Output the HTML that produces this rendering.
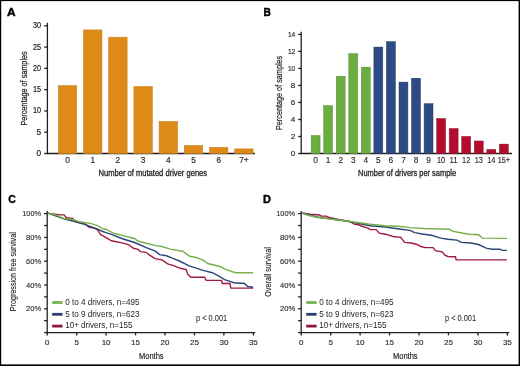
<!DOCTYPE html>
<html><head><meta charset="utf-8"><style>
html,body{margin:0;padding:0;background:#fff;}
svg{display:block;font-family:"Liberation Sans", sans-serif;will-change:transform;}
</style></head><body>
<svg width="520" height="366" viewBox="0 0 520 366">
<rect width="520" height="366" fill="#fff"/>
<text x="7.0" y="15.5" font-size="10.6" text-anchor="start" textLength="8.6" lengthAdjust="spacingAndGlyphs" font-weight="bold" stroke="#000" stroke-width="0.4" fill="#000">A</text>
<line x1="47.4" y1="22.8" x2="47.4" y2="154.1" stroke="#231f20" stroke-width="1.3"/>
<line x1="46.8" y1="153.5" x2="255" y2="153.5" stroke="#231f20" stroke-width="1.3"/>
<line x1="44.2" y1="153.5" x2="47.4" y2="153.5" stroke="#231f20" stroke-width="1.3"/>
<text x="41" y="156.0" font-size="8.3" text-anchor="end" stroke="#231f20" stroke-width="0.2" fill="#231f20">0</text>
<line x1="44.2" y1="132.21666666666667" x2="47.4" y2="132.21666666666667" stroke="#231f20" stroke-width="1.3"/>
<text x="41" y="134.71666666666667" font-size="8.3" text-anchor="end" stroke="#231f20" stroke-width="0.2" fill="#231f20">5</text>
<line x1="44.2" y1="110.93333333333334" x2="47.4" y2="110.93333333333334" stroke="#231f20" stroke-width="1.3"/>
<text x="41" y="113.43333333333334" font-size="8.3" text-anchor="end" textLength="8.1" lengthAdjust="spacingAndGlyphs" stroke="#231f20" stroke-width="0.2" fill="#231f20">10</text>
<line x1="44.2" y1="89.65" x2="47.4" y2="89.65" stroke="#231f20" stroke-width="1.3"/>
<text x="41" y="92.15" font-size="8.3" text-anchor="end" textLength="8.1" lengthAdjust="spacingAndGlyphs" stroke="#231f20" stroke-width="0.2" fill="#231f20">15</text>
<line x1="44.2" y1="68.36666666666666" x2="47.4" y2="68.36666666666666" stroke="#231f20" stroke-width="1.3"/>
<text x="41" y="70.86666666666666" font-size="8.3" text-anchor="end" textLength="8.1" lengthAdjust="spacingAndGlyphs" stroke="#231f20" stroke-width="0.2" fill="#231f20">20</text>
<line x1="44.2" y1="47.08333333333333" x2="47.4" y2="47.08333333333333" stroke="#231f20" stroke-width="1.3"/>
<text x="41" y="49.58333333333333" font-size="8.3" text-anchor="end" textLength="8.1" lengthAdjust="spacingAndGlyphs" stroke="#231f20" stroke-width="0.2" fill="#231f20">25</text>
<line x1="44.2" y1="25.799999999999997" x2="47.4" y2="25.799999999999997" stroke="#231f20" stroke-width="1.3"/>
<text x="41" y="28.299999999999997" font-size="8.3" text-anchor="end" textLength="8.1" lengthAdjust="spacingAndGlyphs" stroke="#231f20" stroke-width="0.2" fill="#231f20">30</text>
<rect x="58.30" y="85.69" width="18.40" height="67.81" fill="#DE8A18" stroke="#C98521" stroke-width="0.6"/>
<text x="67.5" y="163.2" font-size="8.3" text-anchor="middle" stroke="#231f20" stroke-width="0.15" fill="#231f20">0</text>
<rect x="83.50" y="29.93" width="18.40" height="123.57" fill="#DE8A18" stroke="#C98521" stroke-width="0.6"/>
<text x="92.7" y="163.2" font-size="8.3" text-anchor="middle" stroke="#231f20" stroke-width="0.15" fill="#231f20">1</text>
<rect x="108.70" y="37.17" width="18.40" height="116.33" fill="#DE8A18" stroke="#C98521" stroke-width="0.6"/>
<text x="117.9" y="163.2" font-size="8.3" text-anchor="middle" stroke="#231f20" stroke-width="0.15" fill="#231f20">2</text>
<rect x="133.90" y="86.54" width="18.40" height="66.96" fill="#DE8A18" stroke="#C98521" stroke-width="0.6"/>
<text x="143.1" y="163.2" font-size="8.3" text-anchor="middle" stroke="#231f20" stroke-width="0.15" fill="#231f20">3</text>
<rect x="159.10" y="121.45" width="18.40" height="32.05" fill="#DE8A18" stroke="#C98521" stroke-width="0.6"/>
<text x="168.3" y="163.2" font-size="8.3" text-anchor="middle" stroke="#231f20" stroke-width="0.15" fill="#231f20">4</text>
<rect x="184.30" y="145.50" width="18.40" height="8.00" fill="#DE8A18" stroke="#C98521" stroke-width="0.6"/>
<text x="193.5" y="163.2" font-size="8.3" text-anchor="middle" stroke="#231f20" stroke-width="0.15" fill="#231f20">5</text>
<rect x="209.50" y="147.42" width="18.40" height="6.08" fill="#DE8A18" stroke="#C98521" stroke-width="0.6"/>
<text x="218.7" y="163.2" font-size="8.3" text-anchor="middle" stroke="#231f20" stroke-width="0.15" fill="#231f20">6</text>
<rect x="234.70" y="148.90" width="18.40" height="4.60" fill="#DE8A18" stroke="#C98521" stroke-width="0.6"/>
<text x="243.9" y="163.2" font-size="8.3" text-anchor="middle" stroke="#231f20" stroke-width="0.15" fill="#231f20">7+</text>
<text x="98.5" y="176.2" font-size="8.9" text-anchor="start" textLength="108.6" lengthAdjust="spacingAndGlyphs" stroke="#231f20" stroke-width="0.3" fill="#231f20">Number of mutated driver genes</text>
<text x="27.2" y="125.6" font-size="9.5" text-anchor="start" textLength="74.3" lengthAdjust="spacingAndGlyphs" transform="rotate(-90 27.2 125.6)" stroke="#231f20" stroke-width="0.25" fill="#231f20">Percentage of samples</text>
<text x="263.6" y="15.5" font-size="10.4" text-anchor="start" textLength="7.4" lengthAdjust="spacingAndGlyphs" font-weight="bold" stroke="#000" stroke-width="0.4" fill="#000">B</text>
<line x1="301.2" y1="31.7" x2="301.2" y2="154.1" stroke="#231f20" stroke-width="1.3"/>
<line x1="300.59999999999997" y1="153.5" x2="512" y2="153.5" stroke="#231f20" stroke-width="1.3"/>
<line x1="298.2" y1="153.5" x2="301.2" y2="153.5" stroke="#231f20" stroke-width="1.3"/>
<text x="295.3" y="155.9" font-size="8.1" text-anchor="end" stroke="#231f20" stroke-width="0.15" fill="#231f20">0</text>
<line x1="298.2" y1="136.4857142857143" x2="301.2" y2="136.4857142857143" stroke="#231f20" stroke-width="1.3"/>
<text x="295.3" y="138.8857142857143" font-size="8.1" text-anchor="end" stroke="#231f20" stroke-width="0.15" fill="#231f20">2</text>
<line x1="298.2" y1="119.47142857142858" x2="301.2" y2="119.47142857142858" stroke="#231f20" stroke-width="1.3"/>
<text x="295.3" y="121.87142857142858" font-size="8.1" text-anchor="end" stroke="#231f20" stroke-width="0.15" fill="#231f20">4</text>
<line x1="298.2" y1="102.45714285714286" x2="301.2" y2="102.45714285714286" stroke="#231f20" stroke-width="1.3"/>
<text x="295.3" y="104.85714285714286" font-size="8.1" text-anchor="end" stroke="#231f20" stroke-width="0.15" fill="#231f20">6</text>
<line x1="298.2" y1="85.44285714285715" x2="301.2" y2="85.44285714285715" stroke="#231f20" stroke-width="1.3"/>
<text x="295.3" y="87.84285714285716" font-size="8.1" text-anchor="end" stroke="#231f20" stroke-width="0.15" fill="#231f20">8</text>
<line x1="298.2" y1="68.42857142857144" x2="301.2" y2="68.42857142857144" stroke="#231f20" stroke-width="1.3"/>
<text x="295.3" y="70.82857142857145" font-size="8.1" text-anchor="end" textLength="7.4" lengthAdjust="spacingAndGlyphs" stroke="#231f20" stroke-width="0.15" fill="#231f20">10</text>
<line x1="298.2" y1="51.414285714285725" x2="301.2" y2="51.414285714285725" stroke="#231f20" stroke-width="1.3"/>
<text x="295.3" y="53.814285714285724" font-size="8.1" text-anchor="end" textLength="7.4" lengthAdjust="spacingAndGlyphs" stroke="#231f20" stroke-width="0.15" fill="#231f20">12</text>
<line x1="298.2" y1="34.400000000000006" x2="301.2" y2="34.400000000000006" stroke="#231f20" stroke-width="1.3"/>
<text x="295.3" y="36.800000000000004" font-size="8.1" text-anchor="end" textLength="7.4" lengthAdjust="spacingAndGlyphs" stroke="#231f20" stroke-width="0.15" fill="#231f20">14</text>
<rect x="311.15" y="135.46" width="8.90" height="18.04" fill="#6AAE3F" stroke="#5C8F3A" stroke-width="0.5"/>
<text x="315.59999999999997" y="163.3" font-size="8.3" text-anchor="middle" stroke="#231f20" stroke-width="0.12" fill="#231f20">0</text>
<rect x="323.70" y="105.60" width="8.90" height="47.90" fill="#6AAE3F" stroke="#5C8F3A" stroke-width="0.5"/>
<text x="328.15" y="163.3" font-size="8.3" text-anchor="middle" stroke="#231f20" stroke-width="0.12" fill="#231f20">1</text>
<rect x="336.25" y="76.34" width="8.90" height="77.16" fill="#6AAE3F" stroke="#5C8F3A" stroke-width="0.5"/>
<text x="340.7" y="163.3" font-size="8.3" text-anchor="middle" stroke="#231f20" stroke-width="0.12" fill="#231f20">2</text>
<rect x="348.80" y="53.62" width="8.90" height="99.88" fill="#6AAE3F" stroke="#5C8F3A" stroke-width="0.5"/>
<text x="353.24999999999994" y="163.3" font-size="8.3" text-anchor="middle" stroke="#231f20" stroke-width="0.12" fill="#231f20">3</text>
<rect x="361.35" y="67.15" width="8.90" height="86.35" fill="#6AAE3F" stroke="#5C8F3A" stroke-width="0.5"/>
<text x="365.79999999999995" y="163.3" font-size="8.3" text-anchor="middle" stroke="#231f20" stroke-width="0.12" fill="#231f20">4</text>
<rect x="373.90" y="47.07" width="8.90" height="106.43" fill="#2C4A84" stroke="#233A62" stroke-width="0.5"/>
<text x="378.34999999999997" y="163.3" font-size="8.3" text-anchor="middle" stroke="#231f20" stroke-width="0.12" fill="#231f20">5</text>
<rect x="386.45" y="41.63" width="8.90" height="111.87" fill="#2C4A84" stroke="#233A62" stroke-width="0.5"/>
<text x="390.9" y="163.3" font-size="8.3" text-anchor="middle" stroke="#231f20" stroke-width="0.12" fill="#231f20">6</text>
<rect x="399.00" y="82.12" width="8.90" height="71.38" fill="#2C4A84" stroke="#233A62" stroke-width="0.5"/>
<text x="403.45" y="163.3" font-size="8.3" text-anchor="middle" stroke="#231f20" stroke-width="0.12" fill="#231f20">7</text>
<rect x="411.55" y="78.29" width="8.90" height="75.21" fill="#2C4A84" stroke="#233A62" stroke-width="0.5"/>
<text x="415.99999999999994" y="163.3" font-size="8.3" text-anchor="middle" stroke="#231f20" stroke-width="0.12" fill="#231f20">8</text>
<rect x="424.10" y="103.73" width="8.90" height="49.77" fill="#2C4A84" stroke="#233A62" stroke-width="0.5"/>
<text x="428.54999999999995" y="163.3" font-size="8.3" text-anchor="middle" stroke="#231f20" stroke-width="0.12" fill="#231f20">9</text>
<rect x="436.65" y="118.53" width="8.90" height="34.97" fill="#B30D2E" stroke="#8E0E28" stroke-width="0.5"/>
<text x="441.09999999999997" y="163.3" font-size="8.3" text-anchor="middle" textLength="8.2" lengthAdjust="spacingAndGlyphs" stroke="#231f20" stroke-width="0.12" fill="#231f20">10</text>
<rect x="449.20" y="128.57" width="8.90" height="24.93" fill="#B30D2E" stroke="#8E0E28" stroke-width="0.5"/>
<text x="453.65" y="163.3" font-size="8.3" text-anchor="middle" textLength="8.2" lengthAdjust="spacingAndGlyphs" stroke="#231f20" stroke-width="0.12" fill="#231f20">11</text>
<rect x="461.75" y="136.48" width="8.90" height="17.02" fill="#B30D2E" stroke="#8E0E28" stroke-width="0.5"/>
<text x="466.2" y="163.3" font-size="8.3" text-anchor="middle" textLength="8.2" lengthAdjust="spacingAndGlyphs" stroke="#231f20" stroke-width="0.12" fill="#231f20">12</text>
<rect x="474.30" y="140.99" width="8.90" height="12.51" fill="#B30D2E" stroke="#8E0E28" stroke-width="0.5"/>
<text x="478.74999999999994" y="163.3" font-size="8.3" text-anchor="middle" textLength="8.2" lengthAdjust="spacingAndGlyphs" stroke="#231f20" stroke-width="0.12" fill="#231f20">13</text>
<rect x="486.85" y="149.50" width="8.90" height="4.00" fill="#B30D2E" stroke="#8E0E28" stroke-width="0.5"/>
<text x="491.3" y="163.3" font-size="8.3" text-anchor="middle" textLength="8.2" lengthAdjust="spacingAndGlyphs" stroke="#231f20" stroke-width="0.12" fill="#231f20">14</text>
<rect x="499.40" y="144.14" width="8.90" height="9.36" fill="#B30D2E" stroke="#8E0E28" stroke-width="0.5"/>
<text x="503.84999999999997" y="163.3" font-size="8.3" text-anchor="middle" textLength="12.4" lengthAdjust="spacingAndGlyphs" stroke="#231f20" stroke-width="0.12" fill="#231f20">15+</text>
<text x="358.1" y="176.2" font-size="8.9" text-anchor="start" textLength="98.0" lengthAdjust="spacingAndGlyphs" stroke="#231f20" stroke-width="0.3" fill="#231f20">Number of drivers per sample</text>
<text x="281.5" y="130.0" font-size="9.4" text-anchor="start" textLength="74.2" lengthAdjust="spacingAndGlyphs" transform="rotate(-90 281.5 130.0)" stroke="#231f20" stroke-width="0.22" fill="#231f20">Percentage of samples</text>
<text x="8.3" y="203.3" font-size="10.9" text-anchor="start" textLength="7.6" lengthAdjust="spacingAndGlyphs" font-weight="bold" stroke="#000" stroke-width="0.4" fill="#000">C</text>
<line x1="47.2" y1="211" x2="47.2" y2="333.20000000000005" stroke="#231f20" stroke-width="1.3"/>
<line x1="46.6" y1="332.6" x2="255.2" y2="332.6" stroke="#231f20" stroke-width="1.3"/>
<line x1="44.1" y1="332.6" x2="47.2" y2="332.6" stroke="#231f20" stroke-width="1.3"/>
<line x1="44.1" y1="320.70000000000005" x2="47.2" y2="320.70000000000005" stroke="#231f20" stroke-width="1.3"/>
<line x1="44.1" y1="308.8" x2="47.2" y2="308.8" stroke="#231f20" stroke-width="1.3"/>
<text x="41.2" y="311.40000000000003" font-size="8.0" text-anchor="end" textLength="15.3" lengthAdjust="spacingAndGlyphs" stroke="#231f20" stroke-width="0.1" fill="#231f20">20%</text>
<line x1="44.1" y1="296.90000000000003" x2="47.2" y2="296.90000000000003" stroke="#231f20" stroke-width="1.3"/>
<line x1="44.1" y1="285.0" x2="47.2" y2="285.0" stroke="#231f20" stroke-width="1.3"/>
<text x="41.2" y="287.6" font-size="8.0" text-anchor="end" textLength="15.3" lengthAdjust="spacingAndGlyphs" stroke="#231f20" stroke-width="0.1" fill="#231f20">40%</text>
<line x1="44.1" y1="273.1" x2="47.2" y2="273.1" stroke="#231f20" stroke-width="1.3"/>
<line x1="44.1" y1="261.2" x2="47.2" y2="261.2" stroke="#231f20" stroke-width="1.3"/>
<text x="41.2" y="263.8" font-size="8.0" text-anchor="end" textLength="15.3" lengthAdjust="spacingAndGlyphs" stroke="#231f20" stroke-width="0.1" fill="#231f20">60%</text>
<line x1="44.1" y1="249.3" x2="47.2" y2="249.3" stroke="#231f20" stroke-width="1.3"/>
<line x1="44.1" y1="237.4" x2="47.2" y2="237.4" stroke="#231f20" stroke-width="1.3"/>
<text x="41.2" y="240.0" font-size="8.0" text-anchor="end" textLength="15.3" lengthAdjust="spacingAndGlyphs" stroke="#231f20" stroke-width="0.1" fill="#231f20">80%</text>
<line x1="44.1" y1="225.5" x2="47.2" y2="225.5" stroke="#231f20" stroke-width="1.3"/>
<line x1="44.1" y1="213.59999999999997" x2="47.2" y2="213.59999999999997" stroke="#231f20" stroke-width="1.3"/>
<text x="41.2" y="216.19999999999996" font-size="8.0" text-anchor="end" textLength="19.0" lengthAdjust="spacingAndGlyphs" stroke="#231f20" stroke-width="0.1" fill="#231f20">100%</text>
<line x1="47.2" y1="332.6" x2="47.2" y2="335.40000000000003" stroke="#231f20" stroke-width="1.3"/>
<text x="47.2" y="344.8" font-size="8.0" text-anchor="middle" stroke="#231f20" stroke-width="0.12" fill="#231f20">0</text>
<line x1="76.65" y1="332.6" x2="76.65" y2="335.40000000000003" stroke="#231f20" stroke-width="1.3"/>
<text x="76.65" y="344.8" font-size="8.0" text-anchor="middle" stroke="#231f20" stroke-width="0.12" fill="#231f20">5</text>
<line x1="106.1" y1="332.6" x2="106.1" y2="335.40000000000003" stroke="#231f20" stroke-width="1.3"/>
<text x="106.1" y="344.8" font-size="8.0" text-anchor="middle" stroke="#231f20" stroke-width="0.12" fill="#231f20">10</text>
<line x1="135.55" y1="332.6" x2="135.55" y2="335.40000000000003" stroke="#231f20" stroke-width="1.3"/>
<text x="135.55" y="344.8" font-size="8.0" text-anchor="middle" stroke="#231f20" stroke-width="0.12" fill="#231f20">15</text>
<line x1="165.0" y1="332.6" x2="165.0" y2="335.40000000000003" stroke="#231f20" stroke-width="1.3"/>
<text x="165.0" y="344.8" font-size="8.0" text-anchor="middle" stroke="#231f20" stroke-width="0.12" fill="#231f20">20</text>
<line x1="194.45" y1="332.6" x2="194.45" y2="335.40000000000003" stroke="#231f20" stroke-width="1.3"/>
<text x="194.45" y="344.8" font-size="8.0" text-anchor="middle" stroke="#231f20" stroke-width="0.12" fill="#231f20">25</text>
<line x1="223.89999999999998" y1="332.6" x2="223.89999999999998" y2="335.40000000000003" stroke="#231f20" stroke-width="1.3"/>
<text x="223.89999999999998" y="344.8" font-size="8.0" text-anchor="middle" stroke="#231f20" stroke-width="0.12" fill="#231f20">30</text>
<line x1="253.34999999999997" y1="332.6" x2="253.34999999999997" y2="335.40000000000003" stroke="#231f20" stroke-width="1.3"/>
<text x="253.34999999999997" y="344.8" font-size="8.0" text-anchor="middle" stroke="#231f20" stroke-width="0.12" fill="#231f20">35</text>
<text x="151.3" y="358.6" font-size="9.9" text-anchor="middle" textLength="24.6" lengthAdjust="spacingAndGlyphs" stroke="#231f20" stroke-width="0.2" fill="#231f20">Months</text>
<text x="16.0" y="311.2" font-size="9.2" text-anchor="start" textLength="79.0" lengthAdjust="spacingAndGlyphs" transform="rotate(-90 16.0 311.2)" stroke="#231f20" stroke-width="0.15" fill="#231f20">Progression free survival</text>
<text x="196.1" y="321.1" font-size="8.5" text-anchor="start" textLength="31.0" lengthAdjust="spacingAndGlyphs" stroke="#231f20" stroke-width="0.05" fill="#231f20">p &lt; 0.001</text>
<line x1="52.2" y1="302.5" x2="62.6" y2="302.5" stroke="#7AB04E" stroke-width="2.8"/>
<text x="65.2" y="304.8" font-size="8.4" text-anchor="start" textLength="74.4" lengthAdjust="spacingAndGlyphs" fill="#231f20">0 to 4 drivers, n=495</text>
<line x1="52.2" y1="314.3" x2="62.6" y2="314.3" stroke="#2A406E" stroke-width="2.8"/>
<text x="65.2" y="316.6" font-size="8.4" text-anchor="start" textLength="74.4" lengthAdjust="spacingAndGlyphs" fill="#231f20">5 to 9 drivers, n=623</text>
<line x1="52.2" y1="326.1" x2="62.6" y2="326.1" stroke="#8F1936" stroke-width="2.8"/>
<text x="65.2" y="328.40000000000003" font-size="8.4" text-anchor="start" textLength="67.3" lengthAdjust="spacingAndGlyphs" fill="#231f20">10+ drivers, n=155</text>
<path d="M47.9,213.2 L60.0,214.9 L64.0,214.9 L66.3,217.8 L72.7,218.4 L75.0,221.3 L85.4,224.2 L88.8,227.0 L94.6,228.2 L98.1,230.5 L100.4,234.5 L103.5,236.2 L111.5,240.8 L123.1,243.1 L128.8,244.8 L133.5,248.3 L138.1,249.4 L140.4,251.7 L146.2,252.3 L149.6,255.2 L155.0,258.7 L161.9,259.8 L167.7,263.8 L173.5,265.6 L180.4,268.3 L186.2,269.6 L187.7,274.2 L190.8,277.3 L204.6,277.3 L206.2,280.4 L221.5,280.4 L222.3,283.5 L230.0,283.5 L230.8,288.1 L253.1,288.1" fill="none" stroke="#9E1B3C" stroke-width="1.4" stroke-linejoin="miter"/>
<path d="M47.9,213.2 L64.6,219.0 L73.8,221.3 L85.4,224.7 L96.9,228.8 L100.4,230.5 L105.8,232.7 L111.5,234.4 L123.1,239.0 L134.6,242.5 L146.2,247.7 L155.4,251.2 L159.6,254.6 L166.5,255.8 L173.5,258.7 L180.4,261.5 L189.2,265.8 L203.1,270.4 L212.3,272.7 L218.5,275.8 L224.6,279.6 L233.8,282.7 L244.6,283.5 L247.7,286.5 L253.1,287.3" fill="none" stroke="#2B4676" stroke-width="1.4" stroke-linejoin="miter"/>
<path d="M47.9,213.2 L55.4,214.9 L63.5,218.4 L72.7,219.5 L79.6,221.8 L91.2,223.6 L98.1,225.9 L102.7,228.8 L105.8,229.2 L113.8,233.3 L123.1,235.6 L134.6,238.5 L138.1,241.3 L148.5,243.7 L155.0,245.4 L161.9,246.5 L171.2,249.4 L182.7,251.2 L189.6,256.3 L196.5,257.5 L203.5,260.4 L207.7,263.5 L220.0,266.5 L226.2,269.6 L235.4,272.7 L253.1,272.7" fill="none" stroke="#78B04B" stroke-width="1.4" stroke-linejoin="miter"/>
<text x="263.1" y="203.3" font-size="10.9" text-anchor="start" textLength="7.9" lengthAdjust="spacingAndGlyphs" font-weight="bold" stroke="#000" stroke-width="0.4" fill="#000">D</text>
<line x1="301.2" y1="211" x2="301.2" y2="333.20000000000005" stroke="#231f20" stroke-width="1.3"/>
<line x1="300.59999999999997" y1="332.6" x2="509.2" y2="332.6" stroke="#231f20" stroke-width="1.3"/>
<line x1="298.09999999999997" y1="332.6" x2="301.2" y2="332.6" stroke="#231f20" stroke-width="1.3"/>
<line x1="298.09999999999997" y1="320.70000000000005" x2="301.2" y2="320.70000000000005" stroke="#231f20" stroke-width="1.3"/>
<line x1="298.09999999999997" y1="308.8" x2="301.2" y2="308.8" stroke="#231f20" stroke-width="1.3"/>
<text x="295.2" y="311.40000000000003" font-size="8.0" text-anchor="end" textLength="15.3" lengthAdjust="spacingAndGlyphs" stroke="#231f20" stroke-width="0.1" fill="#231f20">20%</text>
<line x1="298.09999999999997" y1="296.90000000000003" x2="301.2" y2="296.90000000000003" stroke="#231f20" stroke-width="1.3"/>
<line x1="298.09999999999997" y1="285.0" x2="301.2" y2="285.0" stroke="#231f20" stroke-width="1.3"/>
<text x="295.2" y="287.6" font-size="8.0" text-anchor="end" textLength="15.3" lengthAdjust="spacingAndGlyphs" stroke="#231f20" stroke-width="0.1" fill="#231f20">40%</text>
<line x1="298.09999999999997" y1="273.1" x2="301.2" y2="273.1" stroke="#231f20" stroke-width="1.3"/>
<line x1="298.09999999999997" y1="261.2" x2="301.2" y2="261.2" stroke="#231f20" stroke-width="1.3"/>
<text x="295.2" y="263.8" font-size="8.0" text-anchor="end" textLength="15.3" lengthAdjust="spacingAndGlyphs" stroke="#231f20" stroke-width="0.1" fill="#231f20">60%</text>
<line x1="298.09999999999997" y1="249.3" x2="301.2" y2="249.3" stroke="#231f20" stroke-width="1.3"/>
<line x1="298.09999999999997" y1="237.4" x2="301.2" y2="237.4" stroke="#231f20" stroke-width="1.3"/>
<text x="295.2" y="240.0" font-size="8.0" text-anchor="end" textLength="15.3" lengthAdjust="spacingAndGlyphs" stroke="#231f20" stroke-width="0.1" fill="#231f20">80%</text>
<line x1="298.09999999999997" y1="225.5" x2="301.2" y2="225.5" stroke="#231f20" stroke-width="1.3"/>
<line x1="298.09999999999997" y1="213.59999999999997" x2="301.2" y2="213.59999999999997" stroke="#231f20" stroke-width="1.3"/>
<text x="295.2" y="216.19999999999996" font-size="8.0" text-anchor="end" textLength="19.0" lengthAdjust="spacingAndGlyphs" stroke="#231f20" stroke-width="0.1" fill="#231f20">100%</text>
<line x1="301.2" y1="332.6" x2="301.2" y2="335.40000000000003" stroke="#231f20" stroke-width="1.3"/>
<text x="301.2" y="344.8" font-size="8.0" text-anchor="middle" stroke="#231f20" stroke-width="0.12" fill="#231f20">0</text>
<line x1="330.65" y1="332.6" x2="330.65" y2="335.40000000000003" stroke="#231f20" stroke-width="1.3"/>
<text x="330.65" y="344.8" font-size="8.0" text-anchor="middle" stroke="#231f20" stroke-width="0.12" fill="#231f20">5</text>
<line x1="360.09999999999997" y1="332.6" x2="360.09999999999997" y2="335.40000000000003" stroke="#231f20" stroke-width="1.3"/>
<text x="360.09999999999997" y="344.8" font-size="8.0" text-anchor="middle" stroke="#231f20" stroke-width="0.12" fill="#231f20">10</text>
<line x1="389.54999999999995" y1="332.6" x2="389.54999999999995" y2="335.40000000000003" stroke="#231f20" stroke-width="1.3"/>
<text x="389.54999999999995" y="344.8" font-size="8.0" text-anchor="middle" stroke="#231f20" stroke-width="0.12" fill="#231f20">15</text>
<line x1="419.0" y1="332.6" x2="419.0" y2="335.40000000000003" stroke="#231f20" stroke-width="1.3"/>
<text x="419.0" y="344.8" font-size="8.0" text-anchor="middle" stroke="#231f20" stroke-width="0.12" fill="#231f20">20</text>
<line x1="448.45" y1="332.6" x2="448.45" y2="335.40000000000003" stroke="#231f20" stroke-width="1.3"/>
<text x="448.45" y="344.8" font-size="8.0" text-anchor="middle" stroke="#231f20" stroke-width="0.12" fill="#231f20">25</text>
<line x1="477.9" y1="332.6" x2="477.9" y2="335.40000000000003" stroke="#231f20" stroke-width="1.3"/>
<text x="477.9" y="344.8" font-size="8.0" text-anchor="middle" stroke="#231f20" stroke-width="0.12" fill="#231f20">30</text>
<line x1="507.34999999999997" y1="332.6" x2="507.34999999999997" y2="335.40000000000003" stroke="#231f20" stroke-width="1.3"/>
<text x="507.34999999999997" y="344.8" font-size="8.0" text-anchor="middle" stroke="#231f20" stroke-width="0.12" fill="#231f20">35</text>
<text x="405.3" y="358.6" font-size="9.9" text-anchor="middle" textLength="24.6" lengthAdjust="spacingAndGlyphs" stroke="#231f20" stroke-width="0.2" fill="#231f20">Months</text>
<text x="270.6" y="296.8" font-size="9.2" text-anchor="start" textLength="49.6" lengthAdjust="spacingAndGlyphs" transform="rotate(-90 270.6 296.8)" stroke="#231f20" stroke-width="0.15" fill="#231f20">Overall survival</text>
<text x="445.0" y="321.1" font-size="8.5" text-anchor="start" textLength="31.0" lengthAdjust="spacingAndGlyphs" stroke="#231f20" stroke-width="0.05" fill="#231f20">p &lt; 0.001</text>
<line x1="306.2" y1="302.5" x2="316.6" y2="302.5" stroke="#7AB04E" stroke-width="2.8"/>
<text x="319.2" y="304.8" font-size="8.4" text-anchor="start" textLength="74.4" lengthAdjust="spacingAndGlyphs" fill="#231f20">0 to 4 drivers, n=495</text>
<line x1="306.2" y1="314.3" x2="316.6" y2="314.3" stroke="#2A406E" stroke-width="2.8"/>
<text x="319.2" y="316.6" font-size="8.4" text-anchor="start" textLength="74.4" lengthAdjust="spacingAndGlyphs" fill="#231f20">5 to 9 drivers, n=623</text>
<line x1="306.2" y1="326.1" x2="316.6" y2="326.1" stroke="#8F1936" stroke-width="2.8"/>
<text x="319.2" y="328.40000000000003" font-size="8.4" text-anchor="start" textLength="67.3" lengthAdjust="spacingAndGlyphs" fill="#231f20">10+ drivers, n=155</text>
<path d="M301.8,213.0 L310.3,214.2 L319.5,215.0 L321.1,216.1 L326.5,216.1 L328.0,217.3 L334.9,218.8 L339.5,219.6 L348.8,221.2 L351.8,222.7 L354.2,224.2 L359.5,225.0 L362.6,226.5 L368.0,228.1 L370.3,229.6 L376.2,229.6 L379.2,233.2 L385.4,234.2 L393.1,236.5 L400.8,237.3 L404.6,242.4 L411.5,243.0 L416.2,244.2 L420.8,246.5 L425.4,247.6 L433.1,247.6 L435.4,250.7 L442.3,251.9 L444.6,255.0 L447.7,256.5 L455.4,256.8 L456.2,259.9 L506.9,259.9" fill="none" stroke="#9E1B3C" stroke-width="1.4" stroke-linejoin="miter"/>
<path d="M301.8,213.0 L316.5,217.0 L344.2,220.8 L359.5,223.5 L370.0,225.8 L385.4,227.0 L400.8,229.2 L410.0,230.4 L414.6,232.7 L423.8,234.2 L431.5,235.3 L440.8,238.1 L447.7,239.3 L456.9,240.1 L461.5,242.4 L470.8,243.0 L478.5,244.5 L486.2,248.1 L492.3,249.2 L500.0,249.2 L502.3,250.4 L506.9,250.4" fill="none" stroke="#2B4676" stroke-width="1.4" stroke-linejoin="miter"/>
<path d="M301.8,213.0 L307.2,215.0 L316.5,217.3 L328.8,218.8 L344.2,220.8 L359.5,222.7 L370.0,224.2 L385.4,225.8 L400.8,226.5 L410.0,227.6 L423.8,228.5 L449.2,229.2 L452.3,231.2 L463.1,233.2 L469.2,234.2 L478.5,234.7 L482.3,238.1 L506.9,238.4" fill="none" stroke="#78B04B" stroke-width="1.4" stroke-linejoin="miter"/>
<rect x="0" y="0" width="520" height="1.1" fill="#000"/>
<rect x="0" y="0" width="1.2" height="366" fill="#000"/>
<rect x="518.6" y="0" width="1.4" height="366" fill="#000"/>
<rect x="0" y="364.4" width="520" height="1.6" fill="#000"/>
</svg>
</body></html>
